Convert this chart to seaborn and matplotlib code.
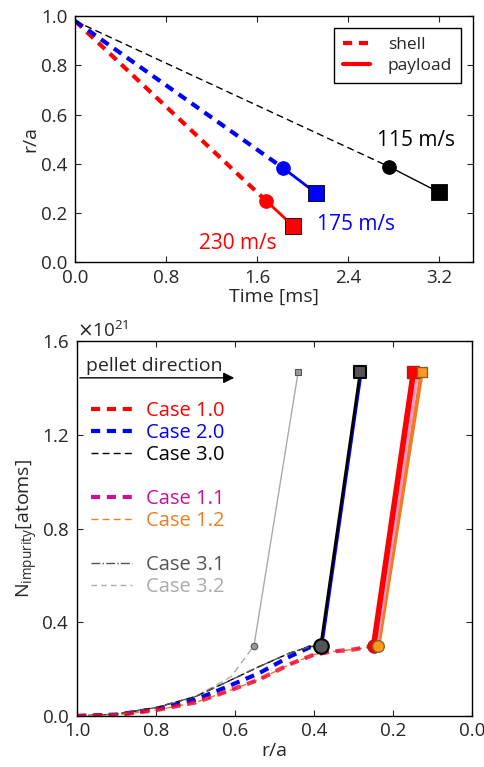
import numpy as np
import matplotlib
matplotlib.use('Agg')
import matplotlib.pyplot as plt
from matplotlib.lines import Line2D
from matplotlib.ticker import ScalarFormatter, FormatStrFormatter
import seaborn as sns

# ---- top panel: pellet trajectories r/a vs time ----
speeds = ['230 m/s', '175 m/s', '115 m/s']
speed_colors = ['#ff0000', '#0000ff', '#000000']
shell_t = [[0.0, 1.68], [0.0, 1.83], [0.0, 2.76]]
shell_r = [[0.98, 0.25], [0.98, 0.383], [0.98, 0.389]]
payload_t = [[1.68, 1.92], [1.83, 2.12], [2.76, 3.20]]
payload_r = [[0.25, 0.147], [0.383, 0.281], [0.389, 0.285]]
speed_label_pos = [(1.43, 0.076), (2.47, 0.154), (3.0, 0.496)]

# ---- bottom panel: deposited impurity vs r/a (units of 1e21 atoms) ----
cases = ['Case 1.0', 'Case 2.0', 'Case 3.0', 'Case 1.1', 'Case 1.2', 'Case 3.1', 'Case 3.2']
case_colors = ['#ff0000', '#0000ff', '#000000', '#cc1199', '#ee7d22', '#555555', '#aaaaaa']

r_shell_1 = [1.0, 0.9, 0.8, 0.7, 0.62, 0.54, 0.46, 0.40, 0.36, 0.30, 0.249]
n_shell_1 = [0.0, 0.004, 0.025, 0.058, 0.105, 0.155, 0.222, 0.262, 0.274, 0.284, 0.30]
r_shell_11 = [1.0, 0.9, 0.8, 0.7, 0.62, 0.54, 0.46, 0.40, 0.36, 0.30, 0.243]
n_shell_11 = [0.0, 0.004, 0.025, 0.058, 0.105, 0.155, 0.222, 0.262, 0.274, 0.284, 0.30]
r_shell_12 = [1.0, 0.9, 0.8, 0.7, 0.62, 0.54, 0.46, 0.40, 0.36, 0.30, 0.237]
n_shell_12 = [0.0, 0.004, 0.025, 0.058, 0.105, 0.155, 0.222, 0.262, 0.274, 0.284, 0.30]
r_shell_2 = [1.0, 0.9, 0.8, 0.7, 0.62, 0.54, 0.46, 0.41, 0.383]
n_shell_2 = [0.0, 0.006, 0.03, 0.07, 0.125, 0.182, 0.255, 0.294, 0.30]
r_shell_3 = [1.0, 0.9, 0.8, 0.7, 0.62, 0.54, 0.46, 0.41, 0.383]
n_shell_3 = [0.0, 0.008, 0.036, 0.083, 0.146, 0.21, 0.27, 0.296, 0.30]
r_shell_32 = [1.0, 0.9, 0.8, 0.7, 0.61, 0.552]
n_shell_32 = [0.0, 0.008, 0.036, 0.083, 0.168, 0.30]

r_pay_1 = [0.249, 0.148]
r_pay_11 = [0.243, 0.138]
r_pay_12 = [0.237, 0.127]
r_pay_2 = [0.380, 0.280]
r_pay_3 = [0.383, 0.283]
r_pay_32 = [0.552, 0.44]
n_pay = [0.30, 1.47]

sns.set_style('ticks')
plt.rcParams['font.family'] = ['Open Sans', 'DejaVu Sans']
plt.rcParams['mathtext.fontset'] = 'dejavusans'
plt.rcParams['xtick.direction'] = 'in'
plt.rcParams['ytick.direction'] = 'in'
plt.rcParams['xtick.top'] = True
plt.rcParams['ytick.right'] = True
plt.rcParams['axes.edgecolor'] = 'black'
plt.rcParams['axes.linewidth'] = 1.0
plt.rcParams['xtick.major.size'] = 4
plt.rcParams['ytick.major.size'] = 4

fig = plt.figure(figsize=(4.85, 7.67), dpi=100)
ax1 = fig.add_axes([0.155, 0.658, 0.82, 0.321])
ax2 = fig.add_axes([0.159, 0.0665, 0.814, 0.4885])

shell_dash = (0, (2.2, 1.6))
thin_dash = (0, (5, 3))
shell_lw = [3, 3, 1]
for i in range(3):
    sns.lineplot(x=shell_t[i], y=shell_r[i], ax=ax1, color=speed_colors[i],
                 lw=shell_lw[i], linestyle=shell_dash if shell_lw[i] > 1 else thin_dash,
                 estimator=None, sort=False)
    sns.lineplot(x=payload_t[i], y=payload_r[i], ax=ax1, color=speed_colors[i],
                 lw=2 if i < 2 else 1, estimator=None, sort=False)
    sns.scatterplot(x=[payload_t[i][0]], y=[payload_r[i][0]], ax=ax1, color=speed_colors[i],
                    marker='o', s=95, edgecolor=speed_colors[i], zorder=5)
    sns.scatterplot(x=[payload_t[i][1]], y=[payload_r[i][1]], ax=ax1, color=speed_colors[i],
                    marker='s', s=140, edgecolor='black', linewidth=0.6, zorder=5)
    ax1.text(speed_label_pos[i][0], speed_label_pos[i][1], speeds[i], color=speed_colors[i],
             fontsize=15, ha='center', va='center')

ax1.set_xlim(0, 3.5)
ax1.set_ylim(0, 1.0)
ax1.set_xticks([0.0, 0.8, 1.6, 2.4, 3.2])
ax1.set_yticks([0.0, 0.2, 0.4, 0.6, 0.8, 1.0])
ax1.xaxis.set_major_formatter(FormatStrFormatter('%.1f'))
ax1.yaxis.set_major_formatter(FormatStrFormatter('%.1f'))
ax1.tick_params(labelsize=13.5)
ax1.tick_params(axis='x', pad=4.5)
ax1.tick_params(axis='y', pad=5.5)
ax1.set_xlabel('Time [ms]', fontsize=14, labelpad=1)
ax1.set_ylabel('r/a', fontsize=14, labelpad=1)
top_handles = [Line2D([], [], color='red', lw=3, linestyle=shell_dash),
               Line2D([], [], color='red', lw=3)]
leg1 = ax1.legend(top_handles, ['shell', 'payload'], loc='upper right', fontsize=12.5,
                  fancybox=False, edgecolor='black', framealpha=1, handlelength=1.6,
                  borderaxespad=0.7, labelspacing=0.3, handletextpad=1.0,
                  borderpad=0.5)
leg1.get_frame().set_linewidth(1.0)

# bottom panel
E = 1e21
sns.lineplot(x=r_shell_32, y=np.array(n_shell_32) * E, ax=ax2, color=case_colors[6], lw=1,
             linestyle=thin_dash, estimator=None, sort=False)
sns.lineplot(x=r_pay_32, y=np.array(n_pay) * E, ax=ax2, color=case_colors[6], lw=1,
             estimator=None, sort=False)
sns.lineplot(x=r_shell_2, y=np.array(n_shell_2) * E, ax=ax2, color=case_colors[1], lw=3,
             linestyle=shell_dash, estimator=None, sort=False)
sns.lineplot(x=r_shell_3, y=np.array(n_shell_3) * E, ax=ax2, color=case_colors[2], lw=1,
             linestyle=thin_dash, estimator=None, sort=False)
sns.lineplot(x=r_shell_3, y=np.array(n_shell_3) * E, ax=ax2, color=case_colors[5], lw=1,
             linestyle='-.', estimator=None, sort=False)
sns.lineplot(x=r_shell_12, y=np.array(n_shell_12) * E, ax=ax2, color=case_colors[4], lw=1,
             linestyle=thin_dash, estimator=None, sort=False)
sns.lineplot(x=r_shell_1, y=np.array(n_shell_1) * E, ax=ax2, color=case_colors[0], lw=3,
             linestyle=shell_dash, alpha=0.75, estimator=None, sort=False)
sns.lineplot(x=r_shell_11, y=np.array(n_shell_11) * E, ax=ax2, color=case_colors[3], lw=3,
             linestyle=shell_dash, alpha=0.25, estimator=None, sort=False)

sns.lineplot(x=r_pay_2, y=np.array(n_pay) * E, ax=ax2, color=case_colors[1], lw=2,
             estimator=None, sort=False)
sns.lineplot(x=r_pay_3, y=np.array(n_pay) * E, ax=ax2, color=case_colors[2], lw=2,
             estimator=None, sort=False)
sns.lineplot(x=r_pay_12, y=np.array(n_pay) * E, ax=ax2, color=case_colors[4], lw=3,
             estimator=None, sort=False)
sns.lineplot(x=r_pay_11, y=np.array(n_pay) * E, ax=ax2, color='#ff99cc', lw=3,
             estimator=None, sort=False)
sns.lineplot(x=r_pay_1, y=np.array(n_pay) * E, ax=ax2, color=case_colors[0], lw=4,
             estimator=None, sort=False)

sns.scatterplot(x=[r_pay_32[0]], y=[n_pay[0] * E], ax=ax2, marker='o', s=22,
                color='#999999', edgecolor='#555555', linewidth=0.8, zorder=5)
sns.scatterplot(x=[r_pay_32[1]], y=[n_pay[1] * E], ax=ax2, marker='s', s=22,
                color='#999999', edgecolor='#555555', linewidth=0.8, zorder=5)
sns.scatterplot(x=[r_pay_3[0]], y=[n_pay[0] * E], ax=ax2, marker='o', s=110,
                color='#555555', edgecolor='black', linewidth=1.5, zorder=5)
sns.scatterplot(x=[r_pay_3[1]], y=[n_pay[1] * E], ax=ax2, marker='s', s=75,
                color='#555555', edgecolor='black', linewidth=1.5, zorder=5)
sns.scatterplot(x=[r_pay_1[0]], y=[n_pay[0] * E], ax=ax2, marker='o', s=90,
                color='#ff0000', edgecolor='#aa2222', linewidth=1, zorder=5)
sns.scatterplot(x=[r_pay_1[1]], y=[n_pay[1] * E], ax=ax2, marker='s', s=70,
                color='#ff0000', edgecolor='#aa2222', linewidth=1, zorder=5)
sns.scatterplot(x=[r_pay_12[0]], y=[n_pay[0] * E], ax=ax2, marker='o', s=70,
                color='#ff9922', edgecolor='#886622', linewidth=1, zorder=6)
sns.scatterplot(x=[r_pay_12[1]], y=[n_pay[1] * E], ax=ax2, marker='s', s=60,
                color='#ff9922', edgecolor='#886622', linewidth=1, zorder=6)

ax2.set_xlim(1.0, 0.0)
ax2.set_ylim(0, 1.6e21)
ax2.set_xticks([1.0, 0.8, 0.6, 0.4, 0.2, 0.0])
ax2.set_yticks([0, 0.4e21, 0.8e21, 1.2e21, 1.6e21])
ax2.xaxis.set_major_formatter(FormatStrFormatter('%.1f'))
fmt = ScalarFormatter(useMathText=True)
fmt.set_powerlimits((0, 0))
ax2.yaxis.set_major_formatter(fmt)
ax2.yaxis.get_offset_text().set_fontsize(13.5)
ax2.tick_params(labelsize=13.5)
ax2.tick_params(axis='x', pad=4.5)
ax2.tick_params(axis='y', pad=5.5)
ax2.set_xlabel('r/a', fontsize=14, labelpad=1)
ax2.set_ylabel(r'N$_{\mathregular{impurity}}$[atoms]', fontsize=14, labelpad=1)

ax2.annotate('', xy=(0.595, 1.444e21), xytext=(1.0, 1.444e21),
             arrowprops=dict(arrowstyle='-|>', color='black', lw=1, mutation_scale=16))
ax2.text(0.977, 1.455e21, 'pellet direction', fontsize=14, ha='left', va='bottom')

blank = Line2D([], [], color='none')
bottom_handles = [
    Line2D([], [], color=case_colors[0], lw=3, linestyle=shell_dash),
    Line2D([], [], color=case_colors[1], lw=3, linestyle=shell_dash),
    Line2D([], [], color=case_colors[2], lw=1, linestyle=thin_dash),
    blank,
    Line2D([], [], color=case_colors[3], lw=3, linestyle=shell_dash),
    Line2D([], [], color=case_colors[4], lw=1, linestyle=thin_dash),
    blank,
    Line2D([], [], color=case_colors[5], lw=1, linestyle='-.'),
    Line2D([], [], color=case_colors[6], lw=1, linestyle=(0, (4, 3))),
]
bottom_labels = [cases[0], cases[1], cases[2], '', cases[3], cases[4], '', cases[5], cases[6]]
leg2 = ax2.legend(bottom_handles, bottom_labels, loc='upper left', bbox_to_anchor=(-0.01, 0.89),
                  frameon=False, fontsize=14.5, handlelength=2.0, labelspacing=0.1,
                  handletextpad=0.7)
for txt, h in zip(leg2.get_texts(), bottom_handles):
    txt.set_color(h.get_color() if h is not blank else 'none')

fig.savefig('out.png', dpi=100)
